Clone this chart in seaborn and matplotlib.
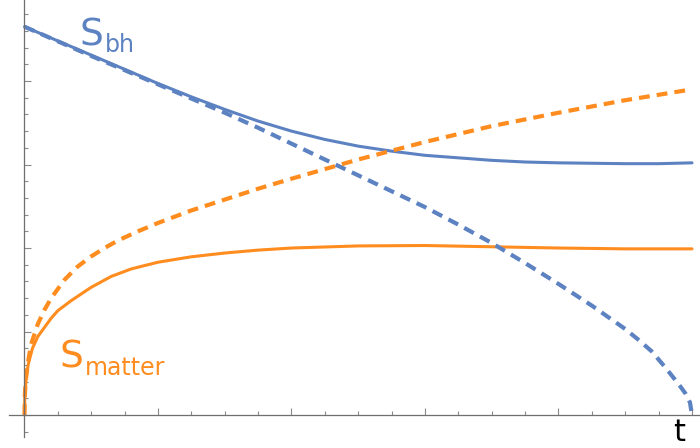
import matplotlib
matplotlib.use("Agg")
import matplotlib.pyplot as plt
from matplotlib.ticker import MultipleLocator, NullFormatter
import seaborn as sns

# Black-hole entropy, full evolution (solid)
t_bh = [0.0, 0.25, 0.5, 0.75, 1.0, 1.25, 1.5, 1.75, 2.0, 2.25, 2.5, 2.75,
        3.0, 3.25, 3.5, 3.75, 4.0, 4.25, 4.5, 4.75, 5.0]
s_bh = [4.65, 4.48, 4.31, 4.14, 3.97, 3.81, 3.66, 3.52, 3.40, 3.30, 3.22, 3.16,
        3.11, 3.08, 3.05, 3.03, 3.02, 3.015, 3.01, 3.01, 3.02]

# Black-hole entropy, naive evolution (dashed)
t_bh_naive = [0.0, 0.5, 1.0, 1.25, 1.5, 1.75, 2.0, 2.25, 2.5, 2.75, 3.0, 3.25,
              3.5, 3.75, 4.0, 4.25, 4.5, 4.6, 4.7, 4.8, 4.9, 4.95, 4.985, 5.0]
s_bh_naive = [4.65, 4.30, 3.96, 3.79, 3.62, 3.44, 3.25, 3.06, 2.87, 2.68, 2.49, 2.28,
              2.06, 1.82, 1.57, 1.31, 1.03, 0.90, 0.76, 0.57, 0.37, 0.26, 0.15, 0.0]

# Matter entropy, full evolution (solid)
t_m = [0.0, 0.002, 0.006, 0.015, 0.03, 0.06, 0.1, 0.15, 0.2, 0.25, 0.35, 0.5,
       0.65, 0.8, 1.0, 1.25, 1.5, 1.75, 2.0, 2.5, 3.0, 3.5, 4.0, 4.5, 5.0]
s_m = [0.0, 0.20, 0.32, 0.48, 0.62, 0.80, 0.94, 1.05, 1.16, 1.25, 1.37, 1.53,
       1.66, 1.75, 1.83, 1.895, 1.94, 1.975, 2.00, 2.025, 2.03, 2.015, 2.00, 1.99, 1.99]

# Matter entropy, naive evolution (dashed)
t_m_naive = [0.0, 0.003, 0.01, 0.025, 0.05, 0.1, 0.15, 0.2, 0.3, 0.4, 0.5, 0.6,
             0.7, 0.85, 1.0, 1.25, 1.5, 1.75, 2.0, 2.5, 3.0, 3.5, 4.0, 4.5, 5.0]
s_m_naive = [0.0, 0.25, 0.42, 0.62, 0.85, 1.09, 1.26, 1.40, 1.62, 1.78, 1.90, 2.00,
             2.09, 2.20, 2.30, 2.45, 2.58, 2.71, 2.83, 3.06, 3.27, 3.46, 3.62, 3.77, 3.90]

BLUE = "#5D82C2"
ORANGE = "#FF8C1F"
AXIS = "#6f6f6f"

sns.set_style("white")
plt.rcParams["font.family"] = ["DejaVu Sans"]

W, H = 700, 448
fig = plt.figure(figsize=(W / 100, H / 100), dpi=100)
ax = fig.add_axes([9 / W, 11 / H, 691 / W, 437 / H])

lw_solid = 2.2
lw_dash = 3.0
dash = (0, (2.6, 1.7))

sns.lineplot(x=t_bh, y=s_bh, ax=ax, color=BLUE, lw=lw_solid,
             estimator=None, sort=False)
sns.lineplot(x=t_m, y=s_m, ax=ax, color=ORANGE, lw=lw_solid,
             estimator=None, sort=False)
sns.lineplot(x=t_bh_naive, y=s_bh_naive, ax=ax, color=BLUE, lw=lw_dash,
             linestyle=dash, estimator=None, sort=False)
sns.lineplot(x=t_m_naive, y=s_m_naive, ax=ax, color=ORANGE, lw=lw_dash,
             linestyle=dash, estimator=None, sort=False)

ax.set_xlim(-0.116, 5.06)
ax.set_ylim(-0.263, 4.97)

# Axes crossing at the origin
for side in ("top", "right"):
    ax.spines[side].set_visible(False)
for side in ("left", "bottom"):
    ax.spines[side].set_position(("data", 0))
    ax.spines[side].set_color(AXIS)
    ax.spines[side].set_linewidth(0.9)

ax.xaxis.set_major_locator(MultipleLocator(1))
ax.xaxis.set_minor_locator(MultipleLocator(0.25))
ax.yaxis.set_major_locator(MultipleLocator(1))
ax.yaxis.set_minor_locator(MultipleLocator(0.2))
ax.xaxis.set_major_formatter(NullFormatter())
ax.yaxis.set_major_formatter(NullFormatter())
ax.tick_params(which="both", direction="in", color="#8a8a8a", width=0.8,
               bottom=True, left=True, labelbottom=False, labelleft=False)
ax.tick_params(which="major", length=5)
ax.tick_params(which="minor", length=3)
ax.set_xlabel("")
ax.set_ylabel("")

def px(x, y):
    return x / W, 1 - y / H

# Curve labels
fig.text(*px(79, 45), "S", color=BLUE, fontsize=27, ha="left", va="baseline")
fig.text(*px(105, 52), "bh", color=BLUE, fontsize=17, ha="left", va="baseline")
fig.text(*px(60, 368), "S", color=ORANGE, fontsize=27, ha="left", va="baseline")
fig.text(*px(85, 375), "matter", color=ORANGE, fontsize=17, ha="left", va="baseline")

# Axis label
fig.text(*px(679, 441), "t", color="black", fontsize=22, ha="center", va="baseline")

fig.savefig("out.png", dpi=100)
